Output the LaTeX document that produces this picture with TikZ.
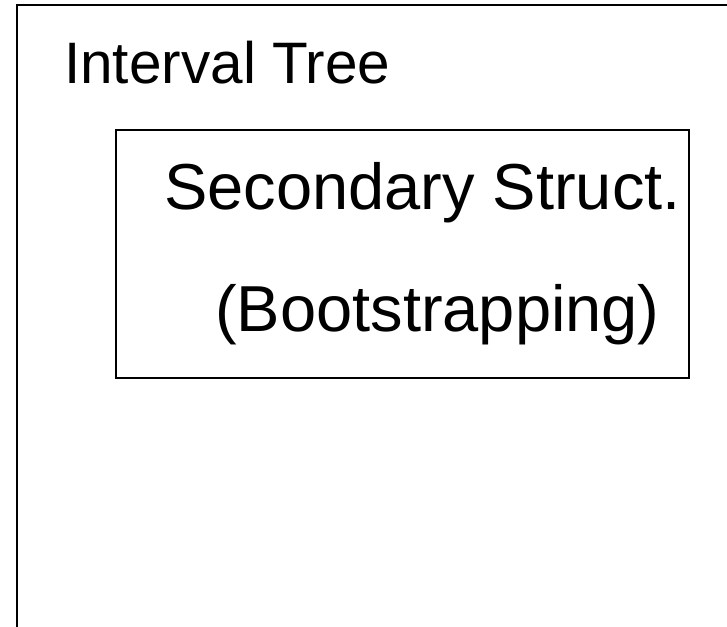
\documentclass[tikz,border=0pt]{standalone}
\usepackage{fontspec}
\setmainfont{Liberation Sans}
\begin{document}
\begin{tikzpicture}[x=1pt,y=-1pt,
  frame/.style={draw=black,line width=2pt},
  label/.style={anchor=base west,inner sep=0pt},
  big/.style={font=\fontsize{65}{72}\selectfont},
  mid/.style={font=\fontsize{58.5}{66}\selectfont}]
\useasboundingbox (0,0) rectangle (727,626);
\clip (0,0) rectangle (727,626);
\fill[white] (0,0) rectangle (727,626);
\draw[frame] (17,5) rectangle (760,660);
\node[label,mid] (title) at (64,83) {Interval Tree};
\draw[frame] (116,130) rectangle (689,378);
\node[label,big] (sec) at (164,209) {Secondary Struct.};
\node[label,big] (boot) at (215,331) {(Bootstrapping)};
\end{tikzpicture}
\end{document}
